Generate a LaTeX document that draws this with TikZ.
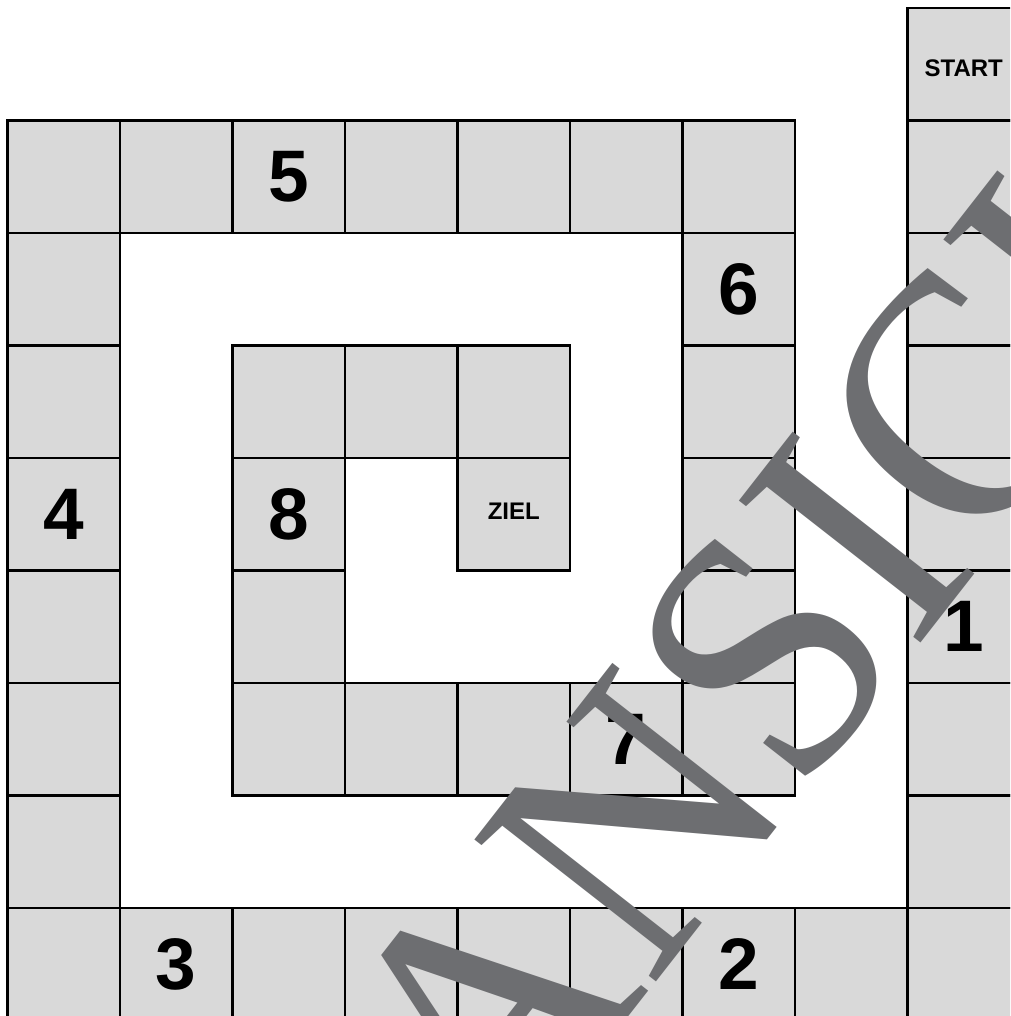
\documentclass[tikz,border=0pt]{standalone}
\usepackage{graphicx}
\usepackage{fontspec}
\setmainfont{Liberation Sans}
\newfontfamily\wmfont{Liberation Serif}
\definecolor{cellgray}{HTML}{D9D9D9}
\definecolor{wmgray}{HTML}{6D6E71}
\begin{document}
\begin{tikzpicture}[x=1pt,y=-1pt,
  cell/.style={draw=black,fill=cellgray,line width=2.4pt,minimum size=112.5pt,
    inner sep=0pt,outer sep=0pt,font=\fontsize{73}{73}\selectfont\bfseries},
  smallcell/.style={cell,font=\fontsize{24}{24}\selectfont\bfseries},
  watermark/.style={text=wmgray,font=\wmfont\fontsize{352}{352}\selectfont,
    inner sep=0pt,rotate=52}]
\useasboundingbox (0,0) rectangle (1010,1016);
\clip (0,0) rectangle (1010,1016);
% path cells
\foreach \c/\r/\t in {8/1/{},8/2/{},8/3/{},8/4/{},8/5/1,8/6/{},8/7/{},8/8/{},
  0/8/{},1/8/3,2/8/{},3/8/{},4/8/{},5/8/{},6/8/2,7/8/{},
  0/1/{},0/2/{},0/3/{},0/4/4,0/5/{},0/6/{},0/7/{},
  1/1/{},2/1/5,3/1/{},4/1/{},5/1/{},6/1/{},
  6/2/6,6/3/{},6/4/{},6/5/{},6/6/{},
  2/6/{},3/6/{},4/6/{},5/6/7,
  2/3/{},2/4/8,2/5/{},
  3/3/{},4/3/{}}
  \node[cell] (cell-\c-\r) at ({63.75+112.5*\c},{64.25+112.5*\r}) {\t};
\node[smallcell,text height=25pt,text depth=0pt] (start) at ({63.75+112.5*8},{64.25}) {START};
\node[smallcell,text height=17pt,text depth=6pt] (ziel) at ({63.75+112.5*4},{64.25+112.5*4}) {ZIEL};
% watermark
\node[watermark] (wm) at (857,538) {\scalebox{0.95}[1]{ANSICHT}};
\end{tikzpicture}
\end{document}
